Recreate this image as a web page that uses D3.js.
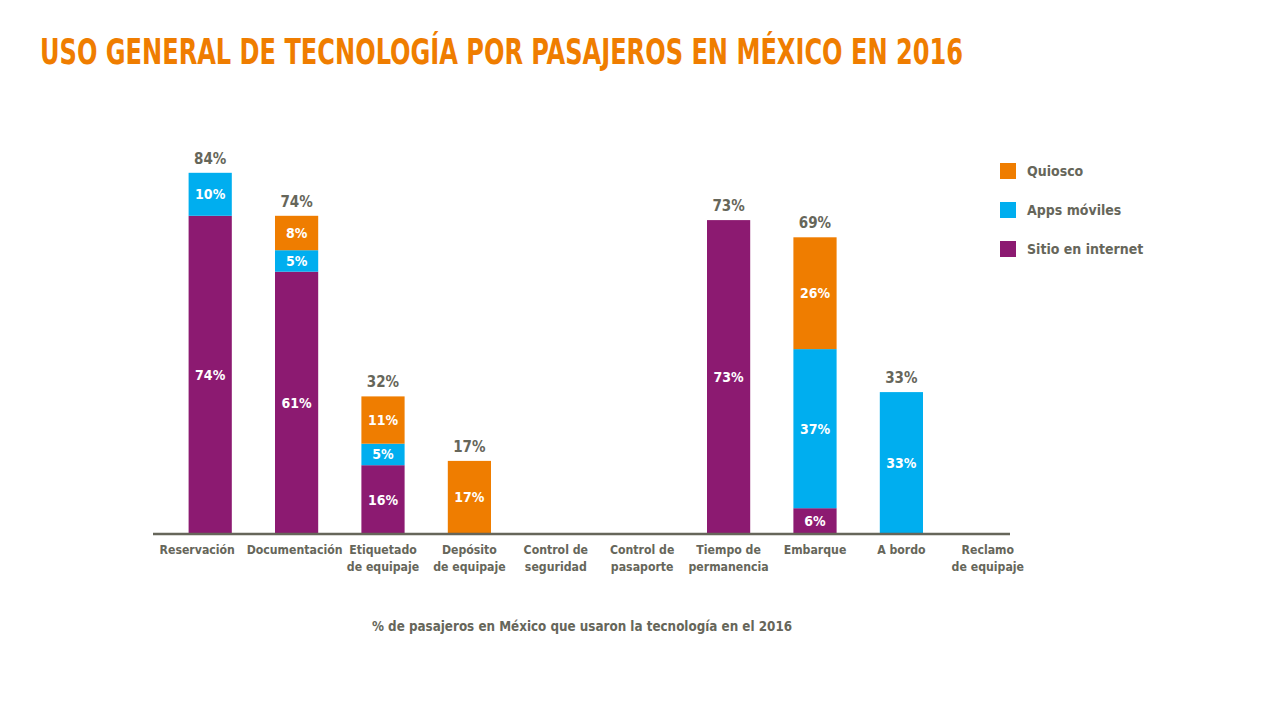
<!DOCTYPE html>
<html>
<head>
<meta charset="utf-8">
<script src="https://cdn.jsdelivr.net/npm/d3@7"></script>
<style>
  body { margin: 0; background: #fff; }
  svg text { font-family: "DejaVu Sans Condensed", "Liberation Sans Narrow", "Roboto", sans-serif; font-weight: bold; }
</style>
</head>
<body>
<svg width="1281" height="721"></svg>
<script>
const categories = ["Reservación", "Documentación", "Etiquetado de equipaje", "Depósito de equipaje",
  "Control de seguridad", "Control de pasaporte", "Tiempo de permanencia", "Embarque", "A bordo", "Reclamo de equipaje"];
const catLines = [["Reservación"], ["Documentación"], ["Etiquetado", "de equipaje"], ["Depósito", "de equipaje"],
  ["Control de", "seguridad"], ["Control de", "pasaporte"], ["Tiempo de", "permanencia"], ["Embarque"], ["A bordo"], ["Reclamo", "de equipaje"]];
const sitio = [74, 61, 16, 0, 0, 0, 73, 6, 0, 0];
const apps = [10, 5, 5, 0, 0, 0, 0, 37, 33, 0];
const quiosco = [0, 8, 11, 17, 0, 0, 0, 26, 0, 0];
const seriesNames = ["Sitio en internet", "Apps móviles", "Quiosco"];
const seriesColors = ["#8c1a71", "#00aeef", "#ef7d00"];

const gray = "#66665a";
const svg = d3.select("svg");

svg.append("text")
  .attr("x", 40).attr("y", 64)
  .attr("fill", "#ef7d00")
  .attr("font-size", 36)
  .attr("textLength", 923).attr("lengthAdjust", "spacingAndGlyphs")
  .text("USO GENERAL DE TECNOLOGÍA POR PASAJEROS EN MÉXICO EN 2016");

const table = categories.map((c, i) => ({ cat: c, sitio: sitio[i], apps: apps[i], quiosco: quiosco[i] }));
const keys = ["sitio", "apps", "quiosco"];
const stacked = d3.stack().keys(keys)(table);

const x = d3.scaleBand().domain(categories).range([167, 1031]).paddingInner(0.5).paddingOuter(0.25);
const y = d3.scaleLinear().domain([0, 100]).range([534, 104]);

// bars
stacked.forEach((layer, li) => {
  const g = svg.append("g");
  g.selectAll("rect").data(layer.filter(d => d[1] > d[0])).enter().append("rect")
    .attr("x", d => x(d.data.cat))
    .attr("width", x.bandwidth())
    .attr("y", d => y(d[1]))
    .attr("height", d => y(d[0]) - y(d[1]))
    .attr("fill", seriesColors[li]);
  g.selectAll("text").data(layer.filter(d => d[1] > d[0])).enter().append("text")
    .attr("x", d => x(d.data.cat) + x.bandwidth() / 2)
    .attr("y", d => (y(d[0]) + y(d[1])) / 2)
    .attr("dy", "0.36em")
    .attr("text-anchor", "middle")
    .attr("fill", "#fff")
    .attr("font-size", 14)
    .text(d => (d[1] - d[0]) + "%");
});

// totals
svg.append("g").selectAll("text")
  .data(table.filter(d => d.sitio + d.apps + d.quiosco > 0)).enter().append("text")
  .attr("x", d => x(d.cat) + x.bandwidth() / 2)
  .attr("y", d => y(d.sitio + d.apps + d.quiosco) - 9)
  .attr("text-anchor", "middle")
  .attr("fill", gray)
  .attr("font-size", 15)
  .text(d => (d.sitio + d.apps + d.quiosco) + "%");

// axis
const axis = svg.append("g").attr("transform", "translate(0,534)")
  .call(d3.axisBottom(x).tickSize(0).tickFormat(""));
axis.select(".domain").remove();
svg.append("line").attr("x1", 153).attr("x2", 1010).attr("y1", 534).attr("y2", 534)
  .attr("stroke", gray).attr("stroke-width", 2.5);

axis.selectAll(".tick").each(function (d, i) {
  const t = d3.select(this).append("text")
    .attr("y", 20)
    .attr("text-anchor", "middle")
    .attr("fill", gray)
    .attr("font-size", 12.2);
  // first label sits a little left of its bar in the original
  const dx = i === 0 ? -13 : (i === 1 ? -2 : 0);
  catLines[i].forEach((ln, k) => {
    t.append("tspan").attr("x", dx).attr("dy", k === 0 ? 0 : 17).text(ln);
  });
});

// legend
const legend = svg.append("g");
[2, 1, 0].forEach((si, k) => {
  legend.append("rect").attr("x", 1000).attr("y", 163 + k * 39).attr("width", 16).attr("height", 16)
    .attr("fill", seriesColors[si]);
  legend.append("text").attr("x", 1027).attr("y", 176 + k * 39)
    .attr("fill", gray).attr("font-size", 14).text(seriesNames[si]);
});

svg.append("text")
  .attr("x", 582).attr("y", 631)
  .attr("text-anchor", "middle")
  .attr("fill", gray)
  .attr("font-size", 13.3)
  .text("% de pasajeros en México que usaron la tecnología en el 2016");
</script>
</body>
</html>
